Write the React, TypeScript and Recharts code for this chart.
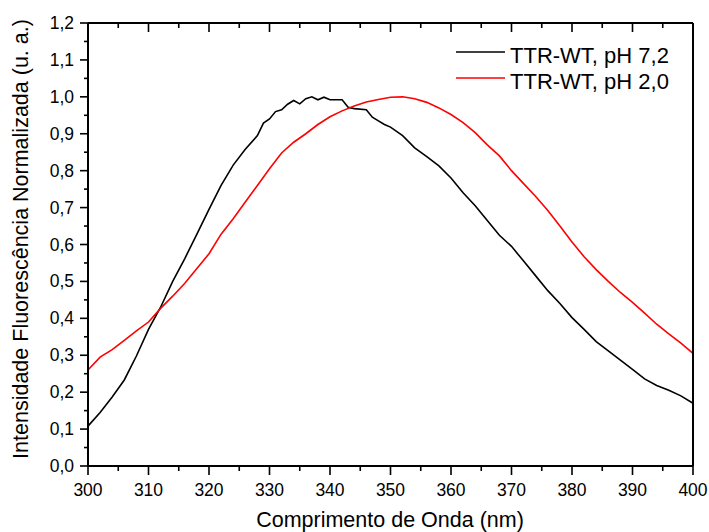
import { LineChart, Line, XAxis, YAxis, Label, Legend, ReferenceLine } from 'recharts'

// Spectra (nm, normalised intensity)
const blackX = [300, 302, 304, 306, 308, 310, 312, 314, 316, 318, 320, 322, 324, 326, 328, 329, 330, 331, 332, 333, 334, 335, 336, 337, 338, 339, 340, 342, 343, 344, 346, 347, 348, 349, 350, 352, 354, 356, 358, 360, 362, 364, 366, 368, 370, 372, 374, 376, 378, 380, 382, 384, 386, 388, 390, 392, 394, 396, 398, 400]
const blackY = [0.108, 0.145, 0.187, 0.233, 0.298, 0.37, 0.43, 0.5, 0.562, 0.628, 0.695, 0.76, 0.815, 0.858, 0.895, 0.929, 0.94, 0.96, 0.965, 0.98, 0.99, 0.981, 0.995, 1.0, 0.992, 0.999, 0.992, 0.992, 0.972, 0.968, 0.965, 0.945, 0.935, 0.925, 0.918, 0.895, 0.862, 0.838, 0.813, 0.78, 0.74, 0.705, 0.665, 0.625, 0.595, 0.555, 0.515, 0.475, 0.44, 0.402, 0.37, 0.337, 0.312, 0.287, 0.262, 0.236, 0.218, 0.205, 0.19, 0.17]

const redX = [300, 302, 304, 306, 308, 310, 312, 314, 316, 318, 320, 322, 324, 326, 328, 330, 332, 334, 336, 338, 340, 342, 344, 346, 348, 350, 352, 354, 356, 358, 360, 362, 364, 366, 368, 370, 372, 374, 376, 378, 380, 382, 384, 386, 388, 390, 392, 394, 396, 398, 400]
const redY = [0.26, 0.295, 0.315, 0.34, 0.366, 0.39, 0.427, 0.46, 0.495, 0.535, 0.575, 0.628, 0.67, 0.715, 0.76, 0.805, 0.848, 0.877, 0.9, 0.925, 0.946, 0.962, 0.975, 0.986, 0.993, 0.999, 1.0, 0.995, 0.985, 0.97, 0.952, 0.93, 0.903, 0.87, 0.84, 0.8, 0.765, 0.73, 0.692, 0.65, 0.607, 0.567, 0.532, 0.5, 0.47, 0.443, 0.414, 0.384, 0.358, 0.333, 0.305]

const xMajor = [300, 310, 320, 330, 340, 350, 360, 370, 380, 390, 400]
const yMajor = [0, 0.1, 0.2, 0.3, 0.4, 0.5, 0.6, 0.7, 0.8, 0.9, 1.0, 1.1, 1.2]
const seriesNames = ['TTR-WT, pH 7,2', 'TTR-WT, pH 2,0']
const seriesColors = ['#000000', '#ff0000']

// majors plus the minor tick halfway between each pair
const xTicks = xMajor.flatMap((v, i) => (i < xMajor.length - 1 ? [v, v + 5] : [v]))
const yTicks = yMajor.flatMap((v, i) => (i < yMajor.length - 1 ? [v, Math.round((v + 0.05) * 100) / 100] : [v]))

const allX = Array.from(new Set([...blackX, ...redX])).sort((a, b) => a - b)
const data = allX.map(x => {
  const bi = blackX.indexOf(x)
  const ri = redX.indexOf(x)
  return {
    x,
    black: bi >= 0 ? blackY[bi] : undefined,
    red: ri >= 0 ? redY[ri] : undefined,
  }
})

const FONT = '"Liberation Sans", Arial, sans-serif'
const INK = '#000000'
const isMajorX = (v: number) => v % 10 === 0
const isMajorY = (v: number) => Math.round(v * 100) % 10 === 0
const fmtY = (v: number) => v.toFixed(1).replace('.', ',')

const BottomTick = ({ x, y, payload }: any) => {
  const v = payload.value
  const major = isMajorX(v)
  return (
    <g>
      <rect x={x - 0.8} y={y} width={1.6} height={major ? 9 : 5} fill={INK} />
      {major && (
        <text x={x} y={y + 30} textAnchor="middle" fontSize={17.5} fontFamily={FONT} fill={INK}>
          {v}
        </text>
      )}
    </g>
  )
}

const TopTick = ({ x, y, payload }: any) => {
  const major = isMajorX(payload.value)
  return <rect x={x - 0.8} y={y} width={1.6} height={major ? 9 : 5} fill={INK} />
}

const LeftTick = ({ x, y, payload }: any) => {
  const v = payload.value
  const len = isMajorY(v) ? 8 : 4
  return (
    <g>
      <rect x={x - len} y={y - 0.8} width={len} height={1.6} fill={INK} />
      {isMajorY(v) && (
        <text x={x - 14} y={y + 6} textAnchor="end" fontSize={17.5} fontFamily={FONT} fill={INK}>
          {fmtY(v)}
        </text>
      )}
    </g>
  )
}

const RightTick = ({ x, y, payload }: any) => {
  const len = isMajorY(payload.value) ? 9 : 5
  return <rect x={x - len} y={y - 0.8} width={len} height={1.6} fill={INK} />
}

const LegendBox = () => (
  <svg width={230} height={60}>
    {seriesNames.map((name, i) => (
      <g key={name}>
        <line x1={0} x2={49} y1={8 + i * 26} y2={8 + i * 26} stroke={seriesColors[i]} strokeWidth={1.6} />
        <text x={54} y={19 + i * 26} fontSize={22} fontFamily={FONT} fill={INK}>
          {name}
        </text>
      </g>
    ))}
  </svg>
)

const axisLine = { stroke: INK, strokeWidth: 2 }

export default function App() {
  return (
    <div style={{ position: 'absolute', left: 0, top: 0, width: 709, height: 532, background: '#fff' }}>
      <LineChart width={709} height={532} data={data} margin={{ top: 22, right: 15, bottom: 0, left: 0 }}>
        <XAxis dataKey="x" type="number" domain={[300, 400]} ticks={xTicks} interval={0} height={66}
          tickSize={0} tickMargin={0} tickLine={false} tick={BottomTick} axisLine={axisLine}>
          <Label content={() => (
            <text x={390} y={527} textAnchor="middle" fontSize={21.5} fontFamily={FONT} fill={INK}>
              Comprimento de Onda (nm)
            </text>
          )} />
        </XAxis>
        <XAxis xAxisId="top" orientation="top" dataKey="x" type="number" domain={[300, 400]} ticks={xTicks}
          interval={0} height={1} tickSize={0} tickMargin={0} tickLine={false} tick={TopTick} axisLine={axisLine} />
        <YAxis type="number" domain={[0, 1.2]} ticks={yTicks} interval={0} width={88}
          tickSize={0} tickMargin={0} tickLine={false} tick={LeftTick} axisLine={axisLine}>
          <Label content={() => (
            <text x={28} y={239} textAnchor="middle" fontSize={21.5} fontFamily={FONT} fill={INK} transform="rotate(-90 28 239)">
              Intensidade Fluorescência Normalizada (u. a.)
            </text>
          )} />
        </YAxis>
        <YAxis yAxisId="right" orientation="right" type="number" domain={[0, 1.2]} ticks={yTicks} interval={0}
          width={1} tickSize={0} tickMargin={0} tickLine={false} tick={RightTick} axisLine={axisLine} />
        {/* left and bottom frame edges */}
        <ReferenceLine x={300} stroke={INK} strokeWidth={2} ifOverflow="visible" />
        <ReferenceLine y={0} stroke={INK} strokeWidth={2} ifOverflow="visible" />
        <Legend layout="horizontal" verticalAlign="middle" align="center" content={LegendBox}
          wrapperStyle={{ left: 456, top: 44, width: 230, height: 60 }} />
        <Line dataKey="black" name={seriesNames[0]} stroke={seriesColors[0]} strokeWidth={1.6} dot={false} connectNulls isAnimationActive={false} />
        <Line dataKey="red" name={seriesNames[1]} stroke={seriesColors[1]} strokeWidth={1.6} dot={false} connectNulls isAnimationActive={false} />
      </LineChart>
    </div>
  )
}
